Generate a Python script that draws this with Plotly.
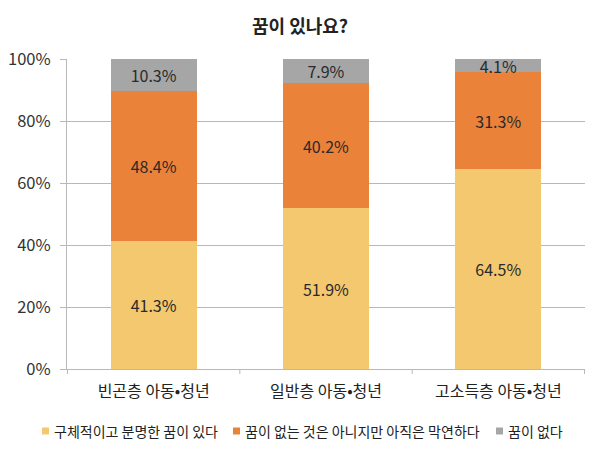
import plotly.graph_objects as go

categories = ["빈곤층 아동•청년", "일반층 아동•청년", "고소득층 아동•청년"]
series_names = ["구체적이고 분명한 꿈이 있다", "꿈이 없는 것은 아니지만 아직은 막연하다", "꿈이 없다"]
clear_dream = [41.3, 51.9, 64.5]
vague_dream = [48.4, 40.2, 31.3]
no_dream = [10.3, 7.9, 4.1]
colors = ["#F3C86F", "#EA823A", "#A6A6A6"]
y_ticks = [0, 20, 40, 60, 80, 100]

FONT = "Noto Sans CJK KR"
W, H = 600, 449
L, R, T, B = 67, 15, 59, 80
PW, PH = W - L - R, H - T - B

fig = go.Figure()
for name, vals, col in zip(series_names, [clear_dream, vague_dream, no_dream], colors):
    fig.add_trace(go.Bar(
        x=categories, y=vals, name=name, marker=dict(color=col, line=dict(width=0)),
        text=[f"{v:.1f}%" for v in vals], textposition="inside", insidetextanchor="middle",
        textfont=dict(size=16, color="#2a2a2a", family=FONT),
        constraintext="none", showlegend=False,
    ))

fig.update_layout(
    barmode="stack", bargap=0.5,
    width=W, height=H,
    margin=dict(l=L, r=R, t=T, b=B, autoexpand=False),
    paper_bgcolor="white", plot_bgcolor="white",
    font=dict(family=FONT, color="#333333"),
    title=dict(text="<b>꿈이 있나요?</b>", x=0.5, xanchor="center", y=1 - 27 / H, yanchor="middle",
               font=dict(size=18, color="#222222", family=FONT)),
    showlegend=False,
    uniformtext=dict(mode=False),
)
fig.update_yaxes(range=[0, 100], tickvals=y_ticks,
                 ticktext=[f"{v}%" for v in y_ticks],
                 showgrid=True, gridcolor="#B8B8B8", gridwidth=1,
                 showline=True, linecolor="#B8B8B8", linewidth=1,
                 ticks="outside", ticklen=6, tickcolor="#B8B8B8", ticklabelstandoff=6,
                 tickfont=dict(size=16.5, color="#333333", family=FONT), zeroline=False)
fig.update_xaxes(showgrid=False, showline=True, linecolor="#B8B8B8", linewidth=1,
                 ticks="", ticklabelstandoff=8,
                 tickfont=dict(size=16, color="#222222", family=FONT))

# category boundary tick marks on x axis
for i in range(len(categories) + 1):
    fig.add_shape(type="line", xref="x", yref="paper", x0=i - 0.5, x1=i - 0.5, y0=0, y1=-5 / PH,
                  line=dict(color="#B8B8B8", width=1))

# manual legend
legend_sq_x = [42, 233, 496]
legend_y = 431
for name, col, sx in zip(series_names, colors, legend_sq_x):
    fig.add_shape(type="rect", xref="paper", yref="paper",
                  x0=(sx - L) / PW, x1=(sx + 7 - L) / PW,
                  y0=(H - B - (legend_y - 3.5)) / PH, y1=(H - B - (legend_y + 3.5)) / PH,
                  fillcolor=col, line=dict(width=0))
    fig.add_annotation(text=name, xref="paper", yref="paper",
                       x=(sx + 10 - L) / PW, y=(H - B - legend_y) / PH,
                       xanchor="left", yanchor="middle", showarrow=False,
                       font=dict(size=14, color="#222222", family=FONT))

fig.write_html("out.html")
